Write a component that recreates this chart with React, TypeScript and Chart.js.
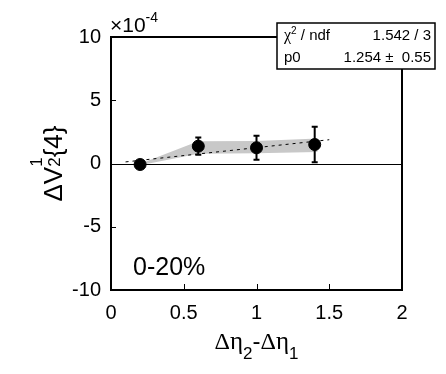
import React, { useEffect, useRef } from "react";
import { Chart, registerables } from "chart.js";

Chart.register(...registerables);

// ---- data ----
const pointX = [0.2, 0.6, 1.0, 1.4];
const pointY = [-0.08, 1.37, 1.24, 1.5];
const pointErr = [0.12, 0.68, 0.95, 1.4];

const bandX = [0.2, 0.6, 1.0, 1.42];
const bandHi = [-0.02, 1.76, 1.78, 1.97];
const bandLo = [-0.14, 0.77, 0.82, 0.9];

const fitX = [0.1, 1.5];
const fitY = [0.125, 1.88];

const xTicks = [0, 0.5, 1, 1.5, 2];
const xTickLabels = ["0", "0.5", "1", "1.5", "2"];
const yTicks = [-10, -5, 0, 5, 10];
const yTickLabels = ["-10", "-5", "0", "5", "10"];

const statsRows = [
  ["χ", "2", " / ndf", "1.542 / 3"],
  ["p0", "", "", "1.254 ±  0.55"],
];
const centralityLabel = "0-20%";
const exponentLabel = "-4";

const SANS = '"Liberation Sans", Arial, sans-serif';
const SERIF = '"Liberation Serif", "Times New Roman", serif';

type Part = { t: string; font: string; dy: number; stackWith?: Part };

function drawParts(ctx: CanvasRenderingContext2D, parts: Part[], x: number, y: number, align: "left" | "center") {
  const widths = parts.map((p) => {
    ctx.font = p.font;
    let w = ctx.measureText(p.t).width;
    if (p.stackWith) {
      ctx.font = p.stackWith.font;
      w = Math.max(w, ctx.measureText(p.stackWith.t).width);
    }
    return w;
  });
  const total = widths.reduce((a, b) => a + b, 0);
  let cx = align === "center" ? x - total / 2 : x;
  parts.forEach((p, i) => {
    ctx.font = p.font;
    ctx.fillText(p.t, cx, y + p.dy);
    if (p.stackWith) {
      ctx.font = p.stackWith.font;
      ctx.fillText(p.stackWith.t, cx, y + p.stackWith.dy);
    }
    cx += widths[i];
  });
}

const overlayPlugin = {
  id: "rootStyle",
  beforeDatasetsDraw(chart: any) {
    const { ctx, chartArea, scales } = chart;
    const y0 = scales.y.getPixelForValue(0);
    ctx.save();
    ctx.strokeStyle = "#000";
    ctx.lineWidth = 1;
    ctx.beginPath();
    ctx.moveTo(chartArea.left, Math.round(y0) + 0.5);
    ctx.lineTo(chartArea.right, Math.round(y0) + 0.5);
    ctx.stroke();
    ctx.restore();
  },
  afterDatasetsDraw(chart: any) {
    const { ctx, scales } = chart;
    ctx.save();
    ctx.strokeStyle = "#000";
    ctx.lineWidth = 2;
    pointX.forEach((xv, i) => {
      const px = scales.x.getPixelForValue(xv);
      const top = scales.y.getPixelForValue(pointY[i] + pointErr[i]);
      const bot = scales.y.getPixelForValue(pointY[i] - pointErr[i]);
      ctx.beginPath();
      ctx.moveTo(px, top);
      ctx.lineTo(px, bot);
      ctx.moveTo(px - 3, top);
      ctx.lineTo(px + 3, top);
      ctx.moveTo(px - 3, bot);
      ctx.lineTo(px + 3, bot);
      ctx.stroke();
    });
    ctx.restore();
  },
  afterDraw(chart: any) {
    const { ctx, chartArea, scales } = chart;
    const { left, right, top, bottom } = chartArea;
    ctx.save();
    // frame
    ctx.strokeStyle = "#000";
    ctx.lineWidth = 2;
    ctx.strokeRect(left, top, right - left, bottom - top);
    // inward ticks
    ctx.lineWidth = 1;
    ctx.beginPath();
    xTicks.forEach((v) => {
      const px = Math.round(scales.x.getPixelForValue(v)) + 0.5;
      ctx.moveTo(px, bottom);
      ctx.lineTo(px, bottom - 6);
    });
    yTicks.forEach((v) => {
      const py = Math.round(scales.y.getPixelForValue(v)) + 0.5;
      ctx.moveTo(left, py);
      ctx.lineTo(left + 5, py);
    });
    ctx.stroke();

    ctx.fillStyle = "#000";
    ctx.textBaseline = "alphabetic";
    // exponent label
    drawParts(
      ctx,
      [
        { t: "×10", font: `21px ${SANS}`, dy: 0 },
        { t: exponentLabel, font: `14px ${SANS}`, dy: -10 },
      ],
      left - 1,
      top - 5,
      "left"
    );

    // x title
    const xc = (left + right) / 2;
    drawParts(
      ctx,
      [
        { t: "Δ", font: `24px ${SERIF}`, dy: 0 },
        { t: "η", font: `25px ${SERIF}`, dy: 0 },
        { t: "2", font: `17px ${SANS}`, dy: 10 },
        { t: "-", font: `24px ${SANS}`, dy: 0 },
        { t: "Δ", font: `24px ${SERIF}`, dy: 0 },
        { t: "η", font: `25px ${SERIF}`, dy: 0 },
        { t: "1", font: `17px ${SANS}`, dy: 10 },
      ],
      xc,
      349,
      "center"
    );

    // y title (rotated)
    ctx.save();
    ctx.translate(62, (top + bottom) / 2);
    ctx.rotate(-Math.PI / 2);
    drawParts(
      ctx,
      [
        { t: "Δ", font: `26px ${SANS}`, dy: 0 },
        { t: "V", font: `26px ${SANS}`, dy: 0 },
        {
          t: "2",
          font: `17px ${SANS}`,
          dy: -2,
          stackWith: { t: "1", font: `17px ${SANS}`, dy: -20 },
        },
        { t: "{4}", font: `26px ${SANS}`, dy: 0 },
      ],
      0,
      0,
      "center"
    );
    ctx.restore();

    // centrality label
    ctx.font = `25px ${SANS}`;
    ctx.textAlign = "left";
    ctx.fillText(centralityLabel, 133, 275);

    // stats box
    const bx = 277,
      by = 23,
      bw = 158,
      bh = 46;
    ctx.fillStyle = "#fff";
    ctx.fillRect(bx, by, bw, bh);
    ctx.strokeStyle = "#000";
    ctx.lineWidth = 1.5;
    ctx.strokeRect(bx, by, bw, bh);
    ctx.fillStyle = "#000";
    statsRows.forEach((row, i) => {
      const base = by + 17 + i * 22;
      const parts: Part[] = [{ t: row[0], font: i === 0 ? `16px ${SERIF}` : `15px ${SANS}`, dy: 0 }];
      if (row[1]) parts.push({ t: row[1], font: `10px ${SANS}`, dy: -6 });
      if (row[2]) parts.push({ t: row[2], font: `15px ${SANS}`, dy: 0 });
      ctx.textAlign = "left";
      drawParts(ctx, parts, bx + 7, base, "left");
      ctx.font = `15px ${SANS}`;
      ctx.textAlign = "right";
      ctx.fillText(row[3], bx + bw - 4, base);
    });
    ctx.restore();
  },
};

export default function App() {
  const ref = useRef<HTMLCanvasElement | null>(null);
  useEffect(() => {
    if (!ref.current) return;
    const chart = new Chart(ref.current, {
      type: "scatter",
      data: {
        datasets: [
          {
            type: "line",
            data: bandX.map((x, i) => ({ x, y: bandHi[i] })),
            fill: "+1",
            backgroundColor: "#c8c8c8",
            borderWidth: 0,
            borderColor: "rgba(0,0,0,0)",
            pointRadius: 0,
            order: 3,
          },
          {
            type: "line",
            data: bandX.map((x, i) => ({ x, y: bandLo[i] })),
            fill: false,
            borderWidth: 0,
            borderColor: "rgba(0,0,0,0)",
            pointRadius: 0,
            order: 3,
          },
          {
            type: "line",
            data: fitX.map((x, i) => ({ x, y: fitY[i] })),
            fill: false,
            borderColor: "#000",
            borderWidth: 1,
            borderDash: [3, 4],
            pointRadius: 0,
            order: 2,
          },
          {
            type: "scatter",
            data: pointX.map((x, i) => ({ x, y: pointY[i] })),
            backgroundColor: "#000",
            borderColor: "#000",
            pointRadius: 6,
            order: 1,
          },
        ] as any,
      },
      options: {
        responsive: false,
        maintainAspectRatio: false,
        animation: false,
        layout: { padding: { top: 37, right: 44, left: 0, bottom: 0 } },
        plugins: { legend: { display: false }, tooltip: { enabled: false } },
        scales: {
          x: {
            type: "linear",
            min: 0,
            max: 2,
            grid: { display: false, drawTicks: false },
            border: { display: false },
            afterBuildTicks: (s: any) => {
              s.ticks = xTicks.map((v) => ({ value: v }));
            },
            ticks: {
              color: "#000",
              font: { family: SANS, size: 20 },
              padding: 11,
              maxRotation: 0,
              callback: (v: any) => xTickLabels[xTicks.indexOf(Number(v))] ?? "",
            },
            afterFit: (s: any) => {
              s.height = 84;
            },
          },
          y: {
            type: "linear",
            min: -10,
            max: 10,
            grid: { display: false, drawTicks: false },
            border: { display: false },
            afterBuildTicks: (s: any) => {
              s.ticks = yTicks.map((v) => ({ value: v }));
            },
            ticks: {
              color: "#000",
              font: { family: SANS, size: 20 },
              padding: 10,
              callback: (v: any) => yTickLabels[yTicks.indexOf(Number(v))] ?? "",
            },
            afterFit: (s: any) => {
              s.width = 111;
            },
          },
        },
      },
      plugins: [overlayPlugin],
    });
    return () => chart.destroy();
  }, []);
  return (
    <div style={{ position: "absolute", left: 0, top: 0, width: 446, height: 374, background: "#fff" }}>
      <canvas ref={ref} width={446} height={374} />
    </div>
  );
}
